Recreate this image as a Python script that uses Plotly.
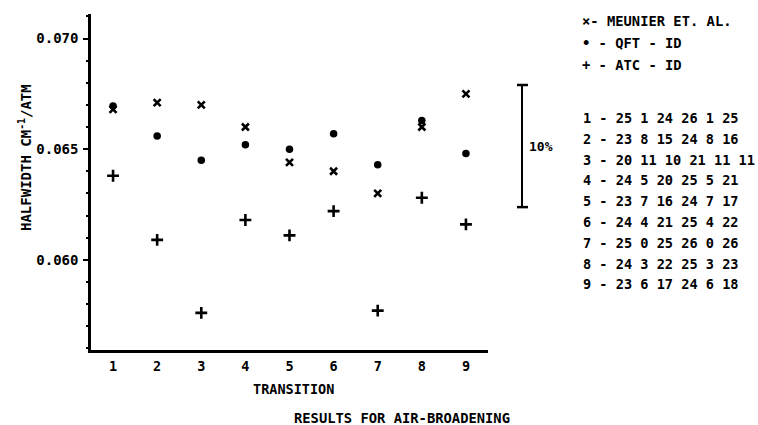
import plotly.graph_objects as go

# ---- data ----
transitions = [1, 2, 3, 4, 5, 6, 7, 8, 9]
meunier = [0.0668, 0.0671, 0.0670, 0.0660, 0.0644, 0.0640, 0.0630, 0.0660, 0.0675]
qft_id = [0.06695, 0.0656, 0.0645, 0.0652, 0.0650, 0.0657, 0.0643, 0.0663, 0.0648]
atc_id = [0.0638, 0.0609, 0.0576, 0.0618, 0.0611, 0.0622, 0.0577, 0.0628, 0.0616]

legend_labels = ["MEUNIER ET. AL.", "QFT - ID", "ATC - ID"]
legend_symbols = ["\u00d7", "\u2022", "+"]

quantum_numbers = [
    [25, 1, 24, 26, 1, 25],
    [23, 8, 15, 24, 8, 16],
    [20, 11, 10, 21, 11, 11],
    [24, 5, 20, 25, 5, 21],
    [23, 7, 16, 24, 7, 17],
    [24, 4, 21, 25, 4, 22],
    [25, 0, 25, 26, 0, 26],
    [24, 3, 22, 25, 3, 23],
    [23, 6, 17, 24, 6, 18],
]

y_ticks = [0.060, 0.065, 0.070]
y_ticklabels = ["0.060", "0.065", "0.070"]
bar_top, bar_bottom = 0.0679, 0.06238
bar_label = "10%"

# ---- layout geometry (pixels) ----
W, H = 758, 425
L, R, T, B = 91, 488, 14, 350
FONT = "DejaVu Sans Mono"


def px(xp):
    return (xp - L) / (R - L)


def py(yp):
    return (B - yp) / (B - T)


fig = go.Figure()
fig.add_trace(go.Scatter(x=transitions, y=meunier, mode="markers", name=legend_labels[0],
                         marker=dict(symbol="x-thin", size=7, color="black",
                                     line=dict(width=2.6, color="black"))))
fig.add_trace(go.Scatter(x=transitions, y=qft_id, mode="markers", name=legend_labels[1],
                         marker=dict(symbol="circle", size=7.5, color="black")))
fig.add_trace(go.Scatter(x=transitions, y=atc_id, mode="markers", name=legend_labels[2],
                         marker=dict(symbol="cross-thin", size=8.5, color="black",
                                     line=dict(width=2.6, color="black"))))

annotations = []
# legend key
for i, (sym, lab) in enumerate(zip(legend_symbols, legend_labels)):
    annotations.append(dict(x=px(580), y=py(21 + 22 * i), xref="paper", yref="paper",
                            text=f"{sym}- {lab}" if i == 0 else f"{sym} - {lab}",
                            showarrow=False, xanchor="left", yanchor="middle",
                            font=dict(family=FONT, size=13.8, color="black", weight="bold")))
# transition table
for i, (t, q) in enumerate(zip(transitions, quantum_numbers)):
    annotations.append(dict(x=px(581), y=py(118 + 20.8 * i), xref="paper", yref="paper",
                            text=f"{t} - " + " ".join(str(v) for v in q),
                            showarrow=False, xanchor="left", yanchor="middle",
                            font=dict(family=FONT, size=13.6, color="black", weight="bold")))
# 10% label
annotations.append(dict(x=px(527), y=(bar_top + bar_bottom) / 2, xref="paper", yref="y",
                        text=bar_label, showarrow=False, xanchor="left", yanchor="middle",
                        font=dict(family=FONT, size=13, color="black", weight="bold")))
# y title
annotations.append(dict(x=px(25), y=py(158), xref="paper", yref="paper",
                        text="HALFWIDTH CM<sup>-1</sup>/ATM", textangle=-90,
                        showarrow=False, xanchor="center", yanchor="middle",
                        font=dict(family=FONT, size=14, color="black", weight="bold")))
# x title
annotations.append(dict(x=px(293), y=py(389), xref="paper", yref="paper",
                        text="TRANSITION", showarrow=False, xanchor="center", yanchor="middle",
                        font=dict(family=FONT, size=13.5, color="black", weight="bold")))
# caption
annotations.append(dict(x=px(292), y=py(418), xref="paper", yref="paper",
                        text="RESULTS FOR AIR-BROADENING", showarrow=False,
                        xanchor="left", yanchor="middle",
                        font=dict(family=FONT, size=13.8, color="black", weight="bold")))

shapes = [
    dict(type="line", xref="paper", yref="y", x0=px(522), x1=px(522), y0=bar_bottom, y1=bar_top,
         line=dict(color="black", width=2)),
    dict(type="line", xref="paper", yref="y", x0=px(517), x1=px(528), y0=bar_top, y1=bar_top,
         line=dict(color="black", width=2.5)),
    dict(type="line", xref="paper", yref="y", x0=px(517), x1=px(528), y0=bar_bottom, y1=bar_bottom,
         line=dict(color="black", width=2.5)),
]

fig.update_layout(
    width=W, height=H,
    margin=dict(l=L, r=W - R, t=T, b=H - B, pad=0),
    paper_bgcolor="white", plot_bgcolor="white",
    showlegend=False,
    font=dict(family=FONT, color="black", size=13, weight="bold"),
    annotations=annotations,
    shapes=shapes,
    xaxis=dict(range=[0.5, 9.5], tickmode="array", tickvals=transitions,
               ticktext=[str(t) for t in transitions], ticks="", showgrid=False,
               zeroline=False, showline=True, linecolor="black", linewidth=2.5,
               ticklabelstandoff=2, tickfont=dict(size=13.5)),
    yaxis=dict(range=[0.05592, 0.07111], tickmode="array", tickvals=y_ticks,
               ticktext=y_ticklabels, ticks="outside", ticklen=5, tickwidth=2,
               tickcolor="black", showgrid=False, zeroline=False, showline=True,
               linecolor="black", linewidth=2.5, ticklabelstandoff=2,
               tickfont=dict(size=14),
               minor=dict(dtick=0.001, ticks="outside", ticklen=2, tickwidth=1.5,
                          tickcolor="black", tick0=0.060)),
)

fig.write_html("out.html")
